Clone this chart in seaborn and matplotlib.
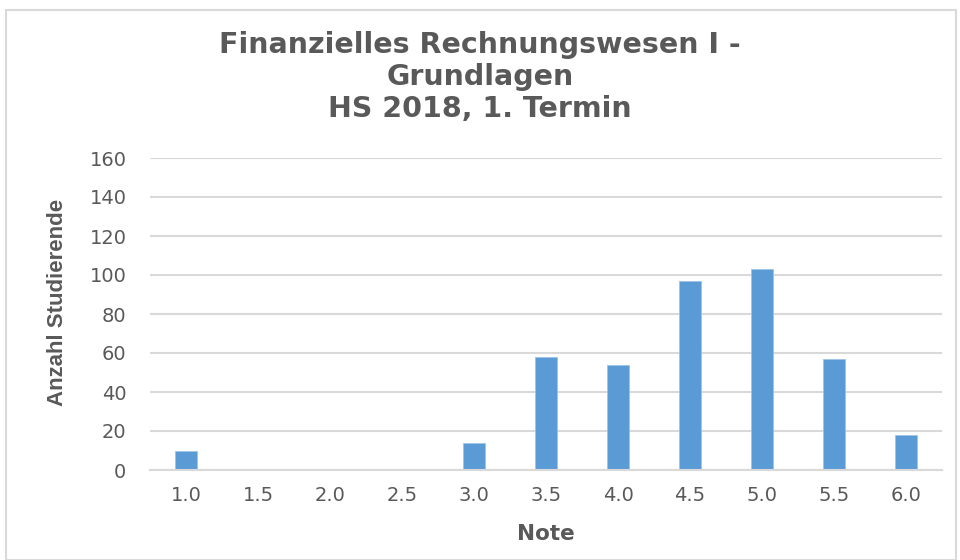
import matplotlib
matplotlib.use("Agg")
import matplotlib.pyplot as plt
import seaborn as sns
import pandas as pd
import numpy as np
from matplotlib.patches import Rectangle

notes = ["1.0", "1.5", "2.0", "2.5", "3.0", "3.5", "4.0", "4.5", "5.0", "5.5", "6.0"]
counts = [10, 0, 0, 0, 14, 58, 54, 97, 103, 57, 18]
y_ticks = [0, 20, 40, 60, 80, 100, 120, 140, 160]

title = "Finanzielles Rechnungswesen I -\nGrundlagen\nHS 2018, 1. Termin"
x_label = "Note"
y_label = "Anzahl Studierende"

sns.set_theme(style="white")
plt.rcParams['font.family'] = ['DejaVu Sans']

text_color = "#595959"
grid_color = "#D9D9D9"
bar_color = "#5B9BD5"

df = pd.DataFrame({"Note": notes, "Anzahl": counts})

fig = plt.figure(figsize=(9.6, 5.6), dpi=100)
ax = fig.add_axes([150/960, 1-470/560, (942-150)/960, (470-158)/560])

sns.barplot(data=df, x="Note", y="Anzahl", order=notes, color=bar_color,
            width=0.31, saturation=1, ax=ax, edgecolor="#9DC3E6", linewidth=0.6)

ax.set_ylim(0, 160)
ax.set_xlim(-0.5, len(notes) - 0.5)
ax.set_yticks(y_ticks)
ax.set_yticklabels([str(v) for v in y_ticks], color=text_color, fontsize=14)
ax.yaxis.grid(True, color=grid_color, linewidth=1.5)
ax.set_axisbelow(True)
ax.tick_params(axis="y", length=0, pad=17)

ax.set_xticks(range(len(notes)))
ax.set_xticklabels(notes, color=text_color, fontsize=14)
ax.tick_params(axis="x", which="major", length=0, pad=11.5)
ax.set_xticks(np.arange(-0.5, len(notes), 1.0), minor=True)
ax.tick_params(axis="x", which="minor", length=6, width=1.5, color=grid_color)

for s in ["top", "right", "left"]:
    ax.spines[s].set_visible(False)
ax.spines["bottom"].set_color(grid_color)
ax.spines["bottom"].set_linewidth(1.5)

ax.set_xlabel(x_label, fontsize=15.5, fontweight="bold", color=text_color, labelpad=14)
ax.set_ylabel(y_label, fontsize=16, fontweight="bold", color=text_color,
              family=["Liberation Sans", "DejaVu Sans"])
ax.yaxis.set_label_coords(-0.104, 0.538)

fig.text(480/960, 1-77/560, title, ha="center", va="center", fontsize=20.5,
         fontweight="bold", color=text_color, linespacing=1.18)

fig.patches.append(Rectangle((6/960, 0), (956-6)/960, 1-10/560, transform=fig.transFigure,
                             fill=False, edgecolor=grid_color, linewidth=1.5))

fig.savefig("out.png", dpi=100)
